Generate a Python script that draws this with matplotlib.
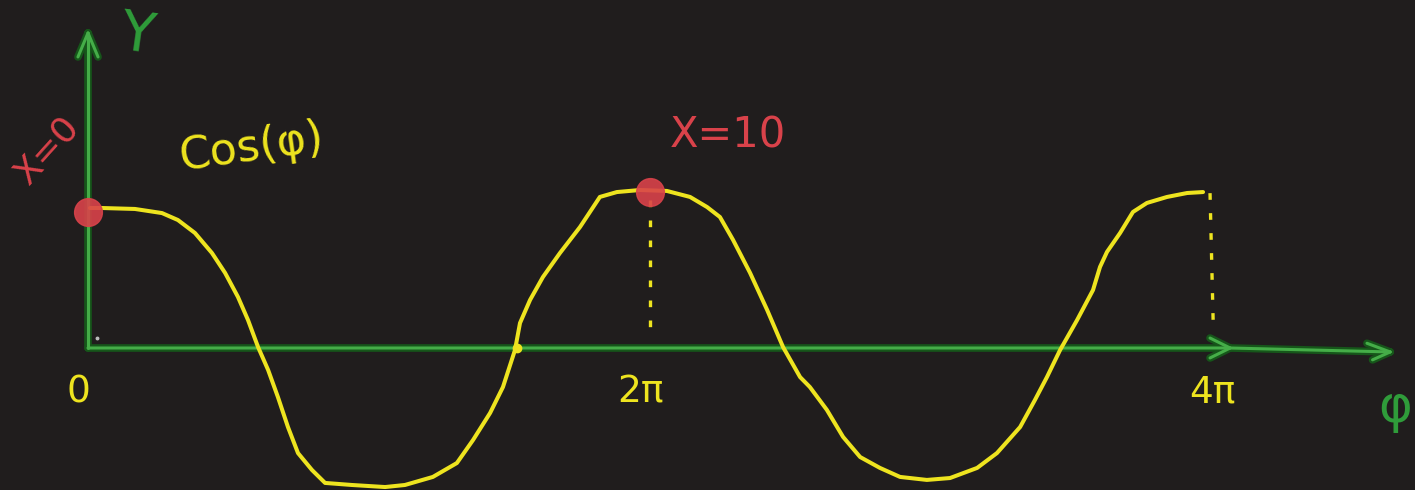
import numpy as np
import matplotlib.pyplot as plt

# фон и цвета "маркеров"
bg = '#201d1d'
yellow = '#eee41f'
green_light = '#45ad48'
green_dark = '#16561a'
green_text = '#2f9c3a'
red = '#d9424a'

# кривая cos(phi), phi в единицах pi
phi = [0.007, 0.050, 0.168, 0.265, 0.322, 0.383, 0.444, 0.491, 0.537, 0.573,
       0.609, 0.645, 0.680, 0.716, 0.752, 0.802, 0.849, 0.945, 1.064, 1.135,
       1.235, 1.321, 1.379, 1.440, 1.486, 1.529, 1.547, 1.583, 1.629, 1.690,
       1.762, 1.833, 1.894, 1.977, 2.073, 2.156, 2.217, 2.263, 2.310, 2.371,
       2.432, 2.489, 2.550, 2.585, 2.646, 2.704, 2.765, 2.836, 2.908, 3.004,
       3.087, 3.184, 3.255, 3.338, 3.391, 3.434, 3.481, 3.542, 3.599, 3.624,
       3.649, 3.696, 3.742, 3.792, 3.864, 3.936, 3.993]
y = [0.886, 0.886, 0.880, 0.854, 0.810, 0.728, 0.601, 0.475, 0.323, 0.177,
     0.006, -0.139, -0.310, -0.500, -0.665, -0.772, -0.854, -0.867, -0.880, -0.867,
     -0.816, -0.728, -0.582, -0.411, -0.247, -0.013, 0.158, 0.304, 0.449, 0.601,
     0.766, 0.956, 0.987, 1.000, 0.994, 0.956, 0.892, 0.829, 0.684, 0.475,
     0.241, 0.006, -0.184, -0.247, -0.392, -0.563, -0.690, -0.759, -0.816, -0.835,
     -0.823, -0.759, -0.665, -0.500, -0.329, -0.184, -0.013, 0.177, 0.367, 0.513,
     0.608, 0.728, 0.861, 0.918, 0.956, 0.981, 0.987]

# отмеченные точки (красные) и пересечение с осью
dots_phi = [0.0, 2.013]
dots_y = [0.86, 0.99]
zero_phi = 1.537

# подписи по оси phi
tick_labels = ['0', '2π', '4π']
tick_phi = [-0.036, 1.977, 4.025]

fig = plt.figure(figsize=(14.15, 4.9), dpi=100, facecolor=bg)
ax = fig.add_axes([0, 0, 1, 1])
ax.set_facecolor(bg)
ax.set_xlim(-88 / 279.25, (1415 - 88) / 279.25)
ax.set_ylim((348 - 490) / 158, 348 / 158)
ax.axis('off')


def axis_line(xs, ys):
    ax.plot(xs, ys, color=green_dark, lw=5.5, solid_capstyle='round', zorder=1)
    ax.plot(xs, ys, color=green_light, lw=2.2, solid_capstyle='round', zorder=2)


# оси
axis_line([0, 0], [0, 1.994])
axis_line([-0.036, 0.0], [1.842, 1.994])
axis_line([0.0, 0.036], [1.994, 1.842])
axis_line([0, 4.09, 4.663], [0, 0, -0.025])
axis_line([4.018, 4.09], [0.063, 0.0])
axis_line([4.018, 4.09], [-0.063, 0.0])
axis_line([4.58, 4.663], [0.03, -0.025])
axis_line([4.60, 4.663], [-0.075, -0.025])

# пунктир до 2pi и 4pi
ax.plot([2.013, 2.013], [0.937, 0.05], color=yellow, lw=2.4,
        linestyle=(0, (2, 4)), zorder=3)
ax.plot([4.018, 4.03], [0.98, 0.11], color=yellow, lw=2.4,
        linestyle=(0, (2, 4)), zorder=3)

# сама кривая
ax.plot(phi, y, color=yellow, lw=2.9, solid_capstyle='round',
        solid_joinstyle='round', zorder=4)

ax.plot(dots_phi, dots_y, 'o', color=red, ms=20, alpha=0.9, zorder=5)
ax.plot([zero_phi], [0], 'o', color=yellow, ms=6, zorder=5)
ax.plot([0.032], [0.063], 'o', color='#bbbbbb', ms=1.8, zorder=5)

# подписи
for lab, p in zip(tick_labels, tick_phi):
    ax.text(p, -0.28, lab, color=yellow, fontsize=27, ha='center', va='center')

ax.text(0.175, 1.98, 'Y', color=green_text, fontsize=40, ha='center',
        va='center', rotation=-8)
ax.text(4.682, -0.38, 'φ', color=green_text, fontsize=37, ha='center',
        va='center')
ax.text(-0.147, 1.253, 'X=0', color=red, fontsize=26, ha='center',
        va='center', rotation=48)
ax.text(0.587, 1.27, 'Cos(φ)', color=yellow, fontsize=32, ha='center',
        va='center', rotation=8)
ax.text(2.292, 1.348, 'X=10', color=red, fontsize=30, ha='center',
        va='center')

plt.savefig('out.png', dpi=100, facecolor=bg)
